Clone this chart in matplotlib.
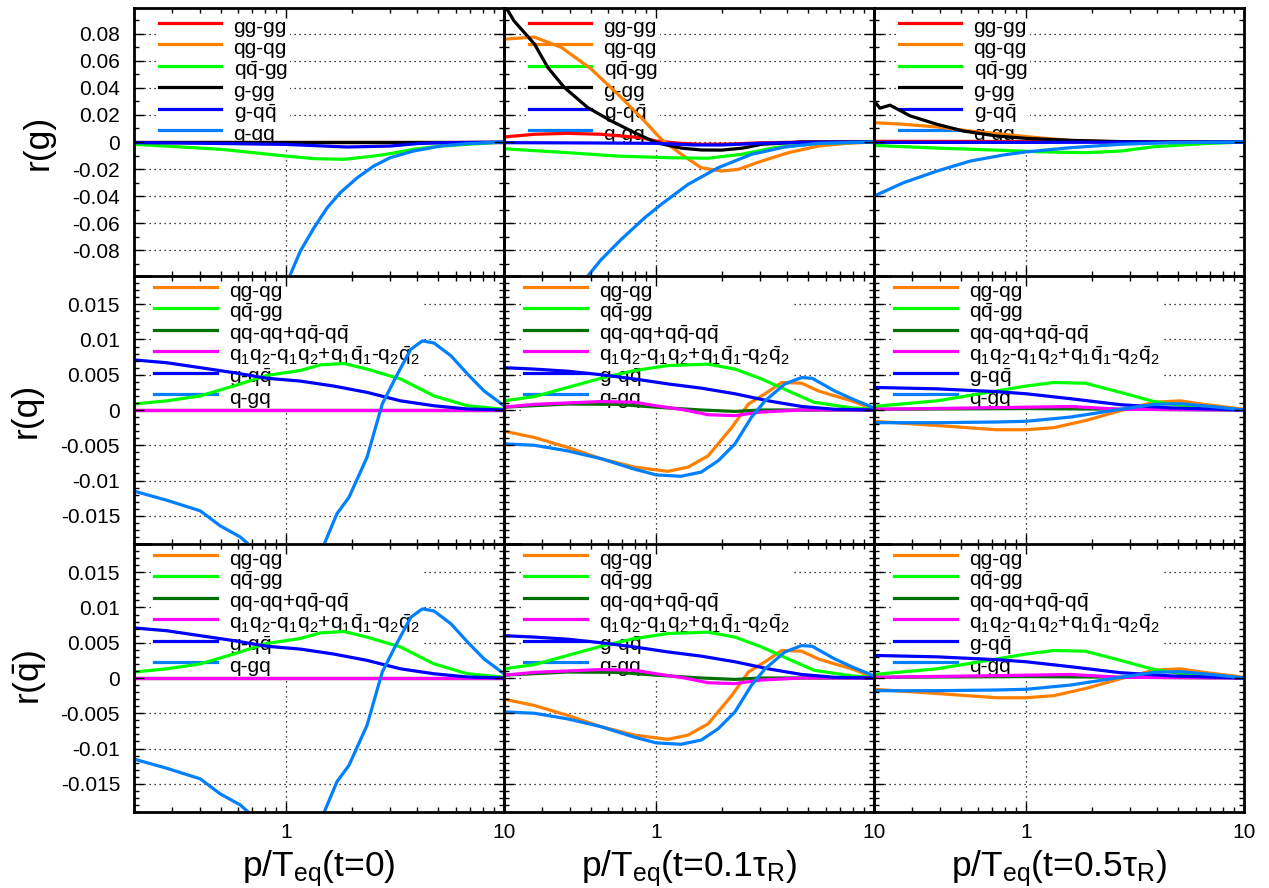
import matplotlib
matplotlib.use("Agg")
import matplotlib.pyplot as plt
from matplotlib.ticker import MultipleLocator, FixedLocator, LogLocator, NullFormatter

plt.rcParams["font.family"] = ["Liberation Sans", "DejaVu Sans"]
plt.rcParams["mathtext.fontset"] = "custom"
plt.rcParams["mathtext.rm"] = "Liberation Sans"
plt.rcParams["mathtext.it"] = "Liberation Sans:italic"
plt.rcParams["mathtext.bf"] = "Liberation Sans:bold"
plt.rcParams["axes.unicode_minus"] = False

# ---------------- data ----------------
flat_x = [0.2, 10]
flat_y = [0.0, 0.0]

# r(g), t = 0
rg0_qqbar_x = [0.2, 0.3, 0.5, 0.7, 0.93, 1.34, 1.84, 2.52, 3.0, 3.84, 5.1, 6.8, 10]
rg0_qqbar_y = [-0.0017, -0.0033, -0.0054, -0.0078, -0.0099, -0.0123, -0.0128, -0.0104, -0.0086, -0.0054, -0.003, -0.0017, 0.0]
rg0_gqq_x = [0.2, 0.5, 1.0, 1.5, 1.9, 3.0, 4.0, 5.0, 10]
rg0_gqq_y = [-0.0004, -0.0011, -0.0018, -0.003, -0.0037, -0.003, -0.0012, -0.0006, 0.0]
rg0_qgq_x = [1.0, 1.044, 1.16, 1.34, 1.54, 1.77, 2.12, 2.52, 3.0, 3.84, 5.1, 6.8, 10]
rg0_qgq_y = [-0.105, -0.098, -0.0807, -0.0635, -0.0487, -0.0375, -0.0264, -0.0178, -0.0116, -0.0067, -0.003, -0.0012, 0.0]

# r(g), t = 0.1 tau_R
rg1_gggg_x = [0.2, 0.276, 0.392, 0.558, 0.853, 1.0, 1.3, 1.61, 2.2, 3.0, 5.0, 10]
rg1_gggg_y = [0.0037, 0.0057, 0.0064, 0.0057, 0.0032, 0.0007, -0.001, -0.0017, -0.0015, -0.0006, 0.0, 0.0]
rg1_qgqg_x = [0.2, 0.276, 0.366, 0.502, 0.667, 0.853, 1.056, 1.305, 1.61, 2.0, 2.38, 3.05, 4.04, 5.56, 7.5, 10]
rg1_qgqg_y = [0.076, 0.0775, 0.070, 0.054, 0.0353, 0.018, 0.002, -0.0091, -0.019, -0.0215, -0.0202, -0.0141, -0.0079, -0.003, -0.001, 0.0]
rg1_qqbar_x = [0.2, 0.392, 0.667, 1.13, 1.73, 2.46, 3.5, 5.56, 10]
rg1_qqbar_y = [-0.005, -0.0079, -0.0104, -0.0116, -0.012, -0.0091, -0.0042, -0.001, 0.0]
rg1_ggg_x = [0.2, 0.222, 0.276, 0.318, 0.379, 0.485, 0.621, 0.796, 1.0, 1.3, 1.61, 2.0, 2.5, 3.05, 4.65, 10]
rg1_ggg_y = [0.102, 0.0896, 0.0724, 0.055, 0.0402, 0.0254, 0.0156, 0.0069, -0.0005, -0.0045, -0.0059, -0.006, -0.0045, -0.0017, 0.0, 0.0]
rg1_gqq_x = [0.2, 0.5, 1.0, 1.5, 2.0, 3.0, 5.0, 10]
rg1_gqq_y = [-0.0005, -0.0007, -0.001, -0.0022, -0.0022, -0.001, -0.0002, 0.0]
rg1_qgq_x = [0.46, 0.485, 0.558, 0.69, 0.885, 1.056, 1.40, 1.925, 2.74, 3.9, 5.56, 10]
rg1_qgq_y = [-0.1035, -0.099, -0.087, -0.072, -0.056, -0.046, -0.0313, -0.019, -0.0091, -0.0037, -0.001, 0.0]

# r(g), t = 0.5 tau_R
rg5_gggg_x = [0.2, 1.0, 3.0, 10]
rg5_gggg_y = [0.0005, 0.0004, 0.0001, 0.0]
rg5_qgqg_x = [0.2, 0.273, 0.389, 0.553, 0.786, 1.12, 1.6, 2.5, 4.0, 6.0, 10]
rg5_qgqg_y = [0.0143, 0.0131, 0.0111, 0.0081, 0.0057, 0.0032, 0.0012, 0.0002, -0.0004, -0.0002, 0.0]
rg5_qqbar_x = [0.2, 0.389, 0.786, 1.12, 1.87, 2.71, 3.86, 6.55, 10]
rg5_qqbar_y = [-0.0025, -0.0045, -0.0062, -0.0072, -0.0079, -0.0067, -0.0035, -0.0012, 0.0]
rg5_ggg_x = [0.2, 0.213, 0.237, 0.293, 0.389, 0.515, 0.733, 1.0, 1.6, 2.71, 4.0, 10]
rg5_ggg_y = [0.0304, 0.025, 0.0272, 0.0193, 0.0131, 0.0081, 0.0044, 0.0027, 0.0012, 0.0003, 0.0, 0.0]
rg5_gqq_x = [0.2, 1.0, 3.0, 10]
rg5_gqq_y = [-0.0003, -0.0003, -0.0001, 0.0]
rg5_qgq_x = [0.2, 0.273, 0.389, 0.553, 0.786, 1.0, 1.6, 2.71, 4.6, 10]
rg5_qgq_y = [-0.04, -0.0301, -0.0215, -0.0141, -0.0096, -0.0073, -0.0042, -0.0017, -0.0005, 0.0]

# r(q), t = 0
rq0_qqbar_x = [0.2, 0.283, 0.403, 0.573, 0.815, 1.16, 1.435, 1.84, 2.35, 3.35, 4.77, 6.8, 10]
rq0_qqbar_y = [0.00085, 0.0013, 0.002, 0.0034, 0.0049, 0.0056, 0.0064, 0.0066, 0.0058, 0.0044, 0.002, 0.0006, 0.0001]
rq0_gqq_x = [0.2, 0.283, 0.403, 0.573, 0.815, 1.16, 1.65, 2.35, 3.35, 4.77, 6.8, 10]
rq0_gqq_y = [0.0071, 0.0067, 0.006, 0.0053, 0.0045, 0.0041, 0.0034, 0.0025, 0.0013, 0.0006, 0.00014, 0.0]
rq0_qgq_x = [0.2, 0.283, 0.403, 0.496, 0.615, 0.68, 0.75, 1.0, 1.4, 1.486, 1.71, 1.94, 2.35, 2.76, 3.18,
             3.73, 4.22, 4.77, 5.7, 6.8, 8.1, 10]
rq0_qgq_y = [-0.0115, -0.0128, -0.0143, -0.0164, -0.018, -0.0192, -0.0205, -0.025, -0.0205, -0.0192, -0.0147,
             -0.0124, -0.0067, 0.00085, 0.0046, 0.0086, 0.0098, 0.0095, 0.0077, 0.0051, 0.0027, 0.0006]

# r(q), t = 0.1 tau_R
rq1_qgqg_x = [0.2, 0.276, 0.392, 0.558, 0.796, 1.13, 1.40, 1.73, 2.22, 2.65, 3.16, 3.77, 4.65, 5.56, 6.6, 7.9, 10]
rq1_qgqg_y = [-0.003, -0.0039, -0.0053, -0.0069, -0.0081, -0.0087, -0.0081, -0.0065, -0.0025, 0.00085, 0.0023,
              0.0039, 0.0038, 0.0027, 0.002, 0.0013, 0.0001]
rq1_qqbar_x = [0.2, 0.276, 0.392, 0.558, 0.796, 1.13, 1.73, 2.3, 3.05, 4.04, 5.3, 7.9, 10]
rq1_qqbar_y = [0.0013, 0.0019, 0.0032, 0.0045, 0.0056, 0.0063, 0.0065, 0.0058, 0.0044, 0.0027, 0.0011, 0.0003, 0.0001]
rq1_qqqq_x = [0.2, 0.392, 0.667, 1.0, 1.61, 2.3, 3.0, 10]
rq1_qqqq_y = [0.0004, 0.00085, 0.0008, 0.0004, 0.0, -0.0002, 0.0, 0.0]
rq1_q1q2_x = [0.2, 0.276, 0.558, 0.796, 1.0, 1.35, 1.73, 2.3, 3.0, 4.65, 10]
rq1_q1q2_y = [0.0004, 0.0008, 0.0012, 0.0011, 0.0006, 0.0, -0.00067, -0.0008, -0.0003, 0.0, 0.0]
rq1_gqq_x = [0.2, 0.276, 0.392, 0.558, 0.796, 1.13, 1.61, 2.3, 3.27, 4.65, 6.6, 10]
rq1_gqq_y = [0.006, 0.0058, 0.0055, 0.005, 0.0044, 0.0037, 0.0031, 0.0023, 0.0013, 0.0005, 0.0001, 0.0]
rq1_qgq_x = [0.2, 0.276, 0.392, 0.558, 0.796, 1.0, 1.3, 1.61, 1.925, 2.3, 2.74, 3.16, 3.9, 4.65, 5.2, 6.6, 7.9, 10]
rq1_qgq_y = [-0.0048, -0.005, -0.0058, -0.0069, -0.0084, -0.0092, -0.0094, -0.0088, -0.0072, -0.0048, -0.001,
             0.0013, 0.0037, 0.0046, 0.0045, 0.0027, 0.0016, 0.0003]

# r(q), t = 0.5 tau_R
rq5_qgqg_x = [0.2, 0.389, 0.733, 1.0, 1.34, 1.87, 2.71, 3.86, 5.1, 6.55, 10]
rq5_qgqg_y = [-0.0016, -0.0022, -0.0028, -0.0028, -0.0025, -0.0015, -0.0001, 0.0011, 0.0013, 0.0008, 0.0001]
rq5_qqbar_x = [0.2, 0.389, 0.733, 1.0, 1.34, 1.87, 2.71, 3.86, 5.5, 10]
rq5_qqbar_y = [0.0005, 0.0013, 0.0027, 0.0034, 0.0039, 0.0038, 0.0025, 0.0012, 0.0005, 0.0]
rq5_qqqq_x = [0.2, 1.0, 3.0, 10]
rq5_qqqq_y = [0.0001, 0.0002, 0.0001, 0.0]
rq5_q1q2_x = [0.2, 0.6, 1.0, 1.6, 2.71, 10]
rq5_q1q2_y = [0.0001, 0.0003, 0.0004, 0.0005, 0.0001, 0.0]
rq5_gqq_x = [0.2, 0.389, 0.733, 1.0, 1.6, 2.71, 4.6, 10]
rq5_gqq_y = [0.0032, 0.003, 0.0026, 0.0023, 0.0016, 0.00075, 0.0003, 0.0]
rq5_qgq_x = [0.2, 0.389, 0.733, 1.0, 1.6, 2.71, 3.86, 5.1, 6.55, 10]
rq5_qgq_y = [-0.0018, -0.0018, -0.0017, -0.0016, -0.001, 0.0001, 0.0008, 0.0009, 0.0006, 0.0]

# ---------------- labels / styles ----------------
top_labels = ["gg-gg", "qg-qg", r"q$\mathrm{\bar{q}}$-gg", "g-gg", r"g-q$\mathrm{\bar{q}}$", "q-gq"]
top_colors = ["#ff0000", "#ff8000", "#00ff00", "#000000", "#0000ff", "#0080ff"]
low_labels = ["qg-qg", r"q$\mathrm{\bar{q}}$-gg", r"qq-qq+q$\mathrm{\bar{q}}$-q$\mathrm{\bar{q}}$",
              r"q$_1$q$_2$-q$_1$q$_2$+q$_1\mathrm{\bar{q}}_1$-q$_2\mathrm{\bar{q}}_2$",
              r"g-q$\mathrm{\bar{q}}$", "q-gq"]
low_colors = ["#ff8000", "#00ff00", "#007000", "#ff00ff", "#0000ff", "#0080ff"]

row_ylabels = ["r(g)", "r(q)", r"r($\mathrm{\bar{q}}$)"]
col_xlabels = [r"p/T$_{\mathrm{eq}}$(t=0)", r"p/T$_{\mathrm{eq}}$(t=0.1$\mathrm{\tau_R}$)",
               r"p/T$_{\mathrm{eq}}$(t=0.5$\mathrm{\tau_R}$)"]

top_yticks = [-0.08, -0.06, -0.04, -0.02, 0, 0.02, 0.04, 0.06, 0.08]
low_yticks = [-0.015, -0.01, -0.005, 0, 0.005, 0.01, 0.015]

rg_panels = [
    [(flat_x, flat_y), (flat_x, flat_y), (rg0_qqbar_x, rg0_qqbar_y), (flat_x, flat_y),
     (rg0_gqq_x, rg0_gqq_y), (rg0_qgq_x, rg0_qgq_y)],
    [(rg1_gggg_x, rg1_gggg_y), (rg1_qgqg_x, rg1_qgqg_y), (rg1_qqbar_x, rg1_qqbar_y), (rg1_ggg_x, rg1_ggg_y),
     (rg1_gqq_x, rg1_gqq_y), (rg1_qgq_x, rg1_qgq_y)],
    [(rg5_gggg_x, rg5_gggg_y), (rg5_qgqg_x, rg5_qgqg_y), (rg5_qqbar_x, rg5_qqbar_y), (rg5_ggg_x, rg5_ggg_y),
     (rg5_gqq_x, rg5_gqq_y), (rg5_qgq_x, rg5_qgq_y)],
]
rq_panels = [
    [(flat_x, flat_y), (rq0_qqbar_x, rq0_qqbar_y), (flat_x, flat_y), (flat_x, flat_y),
     (rq0_gqq_x, rq0_gqq_y), (rq0_qgq_x, rq0_qgq_y)],
    [(rq1_qgqg_x, rq1_qgqg_y), (rq1_qqbar_x, rq1_qqbar_y), (rq1_qqqq_x, rq1_qqqq_y), (rq1_q1q2_x, rq1_q1q2_y),
     (rq1_gqq_x, rq1_gqq_y), (rq1_qgq_x, rq1_qgq_y)],
    [(rq5_qgqg_x, rq5_qgqg_y), (rq5_qqbar_x, rq5_qqbar_y), (rq5_qqqq_x, rq5_qqqq_y), (rq5_q1q2_x, rq5_q1q2_y),
     (rq5_gqq_x, rq5_gqq_y), (rq5_qgq_x, rq5_qgq_y)],
]
# r(qbar) looks the same as r(q)
rows = [rg_panels, rq_panels, rq_panels]

W, H = 1269, 888
fig = plt.figure(figsize=(W / 100, H / 100), dpi=100)

col_left = [134, 504, 874]
row_top = [8, 276, 544]
pw, ph = 370, 268
ylabel_x = [-0.2135, -0.246, -0.232]
bpad = 0.1
fs_px = 15 * 100 / 72

for r in range(3):
    top = r == 0
    ylim = (-0.099, 0.099) if top else (-0.019, 0.019)
    yticks = top_yticks if top else low_yticks
    labels = top_labels if top else low_labels
    colors = top_colors if top else low_colors
    for c in range(3):
        rect = [col_left[c] / W, (H - row_top[r] - ph) / H, pw / W, ph / H]

        # grid on its own axes underneath so the legend box can hide it
        axg = fig.add_axes(rect, zorder=0)
        axg.set_xscale("log")
        axg.set_xlim(0.2, 10)
        axg.set_ylim(*ylim)
        axg.xaxis.set_major_locator(FixedLocator([1, 10]))
        axg.xaxis.set_minor_locator(FixedLocator([]))
        axg.set_yticks(yticks)
        axg.grid(True, color="black", lw=0.9, ls=(0, (1, 3)))
        axg.tick_params(which="both", length=0, labelbottom=False, labelleft=False)
        for s in axg.spines.values():
            s.set_visible(False)

        ax = fig.add_axes(rect, zorder=1)
        ax.patch.set_alpha(0)
        for (xs, ys), lab, col in zip(rows[r][c], labels, colors):
            ax.plot(xs, ys, color=col, lw=2.3, label=lab, zorder=2)
        ax.set_xscale("log")
        ax.set_xlim(0.2, 10)
        ax.set_ylim(*ylim)
        ax.xaxis.set_major_locator(FixedLocator([1, 10]))
        ax.xaxis.set_minor_locator(LogLocator(base=10, subs=range(2, 10)))
        ax.xaxis.set_minor_formatter(NullFormatter())
        ax.set_xticklabels(["1", "10"])
        ax.set_yticks(yticks)
        ax.set_yticklabels(["%g" % v for v in yticks])
        ax.yaxis.set_minor_locator(MultipleLocator(0.01 if top else 0.001))
        ax.tick_params(which="both", direction="in", top=True, right=True, width=1.0, labelsize=15)
        ax.tick_params(which="major", length=7)
        ax.tick_params(which="minor", length=3.5)
        ax.tick_params(axis="y", pad=10)
        ax.tick_params(axis="x", pad=8)
        ax.tick_params(labelbottom=(r == 2), labelleft=(c == 0))
        for s in ax.spines.values():
            s.set_linewidth(2)
        ax.xaxis.set_zorder(3)
        ax.yaxis.set_zorder(3)

        hx = (24.5 if top else 20) - bpad * fs_px
        hy = 2.8 if top else -1.2
        leg = ax.legend(loc="upper left", bbox_to_anchor=(hx / pw, 1 - hy / ph), borderaxespad=0,
                        borderpad=bpad, handlelength=3.0, handletextpad=0.6, handleheight=1.6,
                        labelspacing=-0.258, fontsize=15, frameon=True, fancybox=False,
                        edgecolor="none", facecolor="white", framealpha=1)
        leg.set_zorder(1)

        if c == 0:
            ax.set_ylabel(row_ylabels[r], fontsize=25.5)
            ax.yaxis.set_label_coords(ylabel_x[r], 0.5)
        if r == 2:
            ax.set_xlabel(col_xlabels[c], fontsize=25.5)
            ax.xaxis.set_label_coords(0.5, -0.134)

fig.savefig("out.png", dpi=100)
